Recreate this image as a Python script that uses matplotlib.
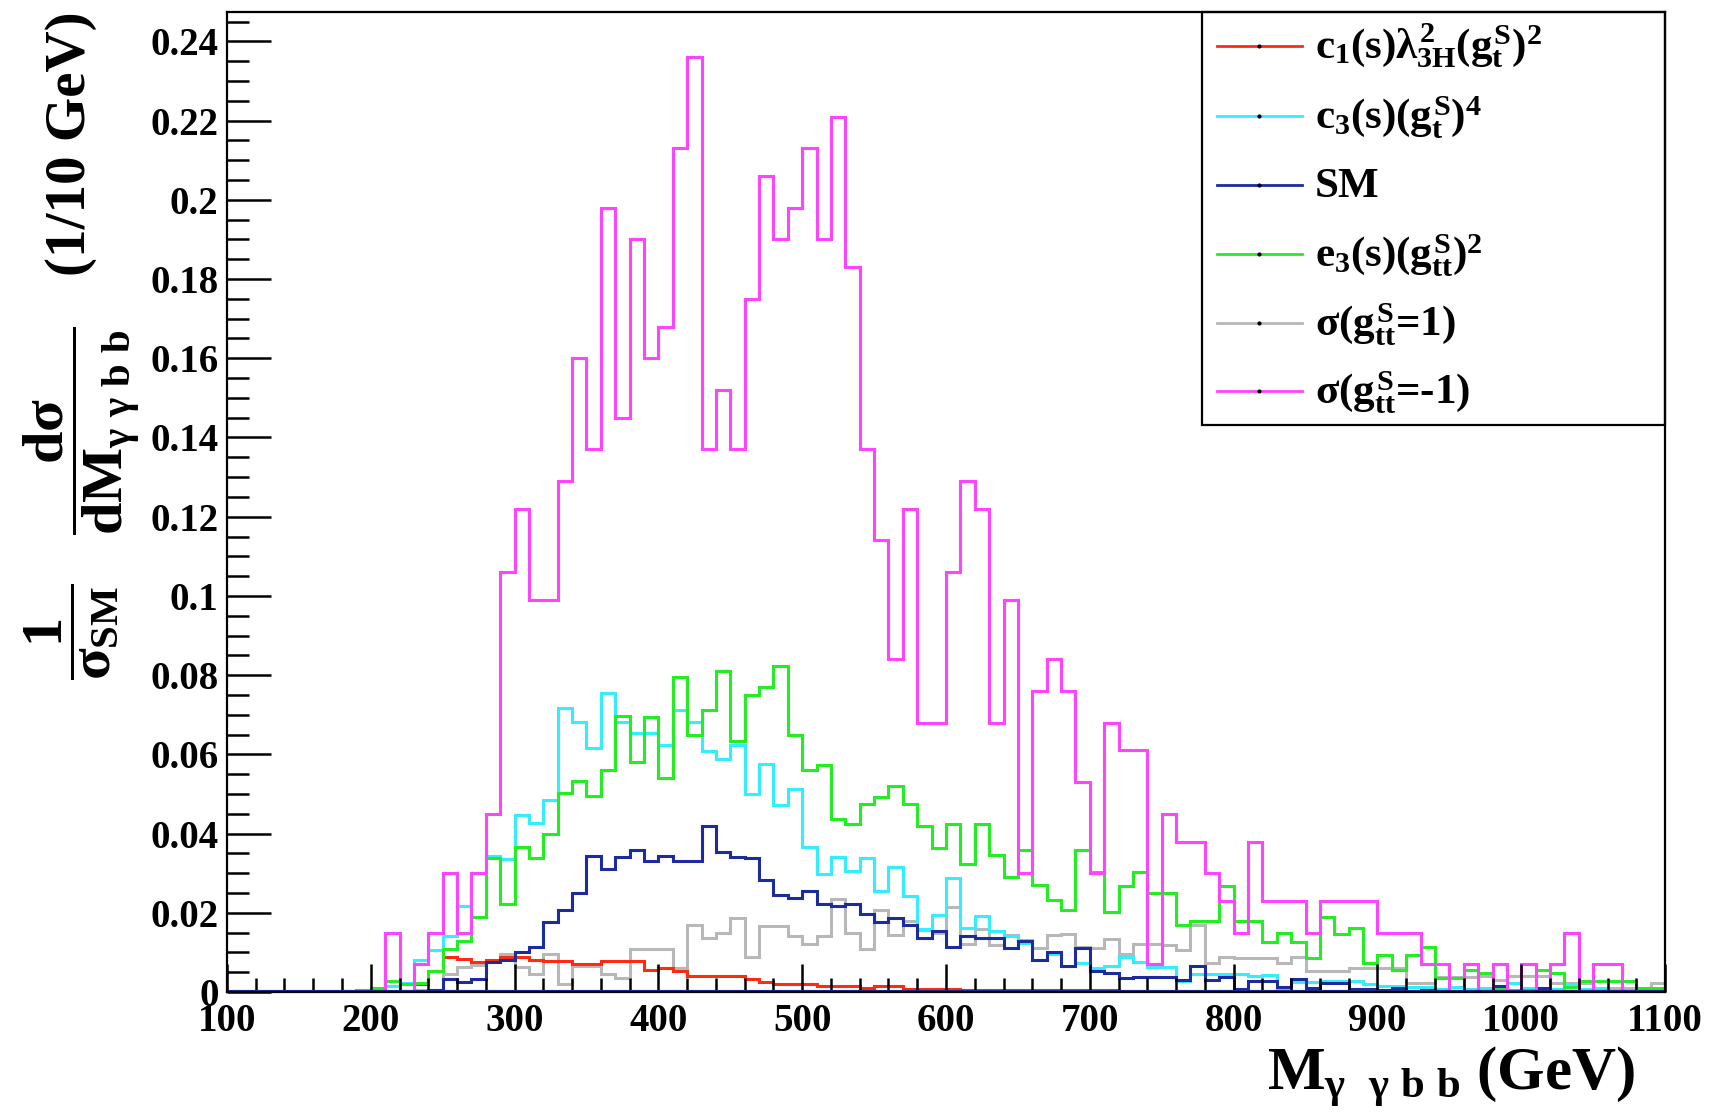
import numpy as np
import matplotlib
matplotlib.use("Agg")
import matplotlib.pyplot as plt
from matplotlib.ticker import MultipleLocator, FormatStrFormatter
from matplotlib.lines import Line2D
from matplotlib.patches import Rectangle

plt.rcParams['font.family'] = 'Liberation Serif'
plt.rcParams['font.weight'] = 'bold'
plt.rcParams['mathtext.fontset'] = 'custom'
plt.rcParams['mathtext.rm'] = 'Liberation Serif:bold'
plt.rcParams['mathtext.it'] = 'Liberation Serif:bold'
plt.rcParams['mathtext.bf'] = 'Liberation Serif:bold'

# binning: 100 bins of 10 GeV from 100 to 1100
m_lo, m_hi, m_step = 100, 1100, 10

# c1(s) lambda^2 (g_t^S)^2
c1_vals = [
    0, 0, 0, 0, 0, 0, 0, 0, 0, 0,
    0, 0, 0, 0.0020, 0.0053, 0.0089, 0.0083, 0.0076, 0.0080, 0.0089,
    0.0089, 0.0081, 0.0079, 0.0078, 0.0070, 0.0070, 0.0078, 0.0078, 0.0078, 0.0055,
    0.0060, 0.0053, 0.0040, 0.0040, 0.0040, 0.0040, 0.0032, 0.0026, 0.0021, 0.0021,
    0.0021, 0.0014, 0.0014, 0.0014, 0.0009, 0.0014, 0.0014, 0.0007, 0.0007, 0.0007,
    0.0007, 0.0004, 0.0004, 0.0004, 0.0004, 0.0004, 0.0004, 0.0004, 0.0004, 0.0004,
    0.0004, 0.0004, 0, 0, 0, 0, 0, 0, 0, 0,
    0, 0, 0, 0, 0, 0, 0, 0, 0, 0,
    0, 0, 0, 0, 0, 0, 0, 0, 0, 0,
    0, 0, 0, 0, 0, 0, 0, 0, 0, 0,
]

# c3(s) (g_t^S)^4
c3_vals = [
    0, 0, 0, 0, 0, 0, 0, 0, 0, 0.0004,
    0.0008, 0.0015, 0.0024, 0.0080, 0.0105, 0.0142, 0.0218, 0.0300, 0.0344, 0.0336,
    0.0446, 0.0426, 0.0486, 0.0716, 0.0682, 0.0617, 0.0755, 0.0682, 0.0654, 0.0654,
    0.0623, 0.0711, 0.0682, 0.0608, 0.0589, 0.0623, 0.0500, 0.0575, 0.0473, 0.0513,
    0.0365, 0.0298, 0.0340, 0.0305, 0.0338, 0.0256, 0.0316, 0.0243, 0.0159, 0.0195,
    0.0289, 0.0161, 0.0192, 0.0154, 0.0142, 0.0125, 0.0080, 0.0095, 0.0065, 0.0072,
    0.0060, 0.0066, 0.0089, 0.0076, 0.0063, 0.0063, 0.0028, 0.0045, 0.0045, 0.0045,
    0.0045, 0.0040, 0.0042, 0.0008, 0.0025, 0.0025, 0.0028, 0.0028, 0.0028, 0.0020,
    0.0015, 0.0015, 0.0012, 0.0012, 0.0008, 0.0012, 0.0008, 0.0010, 0.0008, 0.0023,
    0.0010, 0.0008, 0.0008, 0.0018, 0.0008, 0.0008, 0.0005, 0.0003, 0.0005, 0.0003,
]

# SM
sm_vals = [
    0, 0, 0, 0, 0, 0, 0, 0, 0, 0,
    0, 0, 0, 0, 0.0005, 0.0032, 0.0026, 0.0032, 0.0076, 0.0080,
    0.0100, 0.0114, 0.0176, 0.0207, 0.0250, 0.0344, 0.0310, 0.0340, 0.0359, 0.0330,
    0.0344, 0.0332, 0.0332, 0.0418, 0.0353, 0.0340, 0.0338, 0.0284, 0.0245, 0.0237,
    0.0256, 0.0222, 0.0217, 0.0223, 0.0196, 0.0177, 0.0188, 0.0170, 0.0136, 0.0154,
    0.0114, 0.0142, 0.0137, 0.0136, 0.0111, 0.0129, 0.0082, 0.0102, 0.0066, 0.0110,
    0.0053, 0.0049, 0.0035, 0.0039, 0.0039, 0.0039, 0.0030, 0.0066, 0.0030, 0.0039,
    0.0007, 0.0028, 0.0028, 0.0013, 0.0032, 0.0009, 0.0024, 0.0024, 0.0007, 0.0007,
    0.0005, 0.0010, 0.0003, 0.0005, 0.0003, 0.0003, 0.0003, 0.0003, 0.0015, 0.0003,
    0.0003, 0.0010, 0.0003, 0.0003, 0.0003, 0.0003, 0.0003, 0.0003, 0.0003, 0.0003,
]

# e3(s) (g_tt^S)^2
e3_vals = [
    0, 0, 0, 0, 0, 0, 0, 0, 0.0003, 0.0005,
    0.0010, 0.0028, 0.0020, 0.0022, 0.0053, 0.0108, 0.0129, 0.0190, 0.0338, 0.0222,
    0.0365, 0.0338, 0.0400, 0.0502, 0.0532, 0.0494, 0.0560, 0.0696, 0.0580, 0.0695,
    0.0540, 0.0796, 0.0648, 0.0711, 0.0811, 0.0635, 0.0749, 0.0769, 0.0824, 0.0648,
    0.0560, 0.0574, 0.0437, 0.0424, 0.0474, 0.0493, 0.0520, 0.0474, 0.0419, 0.0364,
    0.0425, 0.0324, 0.0425, 0.0345, 0.0290, 0.0358, 0.0270, 0.0232, 0.0207, 0.0358,
    0.0304, 0.0203, 0.0267, 0.0304, 0.0249, 0.0249, 0.0170, 0.0180, 0.0180, 0.0268,
    0.0180, 0.0180, 0.0127, 0.0148, 0.0127, 0.0087, 0.0190, 0.0146, 0.0161, 0.0074,
    0.0094, 0.0055, 0.0093, 0.0114, 0.0035, 0.0035, 0.0055, 0.0049, 0.0010, 0.0006,
    0.0006, 0.0055, 0.0049, 0.0012, 0.0028, 0.0028, 0.0028, 0.0028, 0.0010, 0.0010,
]

# sigma(g_tt^S = 1)
sig_p1_vals = [
    0, 0, 0, 0, 0, 0, 0, 0, 0, 0,
    0, 0, 0.0003, 0.0005, 0.0005, 0.0045, 0.0063, 0.0068, 0.0075, 0.0095,
    0.0062, 0.0045, 0.0095, 0.0020, 0.0066, 0.0066, 0.0046, 0.0036, 0.0108, 0.0108,
    0.0108, 0.0060, 0.0170, 0.0136, 0.0150, 0.0188, 0.0089, 0.0167, 0.0167, 0.0142,
    0.0122, 0.0142, 0.0235, 0.0149, 0.0109, 0.0207, 0.0144, 0.0180, 0.0156, 0.0149,
    0.0215, 0.0122, 0.0159, 0.0118, 0.0144, 0.0132, 0.0110, 0.0143, 0.0147, 0.0113,
    0.0112, 0.0133, 0.0097, 0.0122, 0.0122, 0.0118, 0.0106, 0.0169, 0.0074, 0.0089,
    0.0087, 0.0087, 0.0087, 0.0072, 0.0089, 0.0053, 0.0053, 0.0053, 0.0060, 0.0060,
    0.0061, 0.0061, 0.0023, 0.0023, 0.0037, 0.0037, 0.0037, 0.0040, 0.0030, 0.0040,
    0.0040, 0.0040, 0.0023, 0.0023, 0.0023, 0.0010, 0.0010, 0.0010, 0.0010, 0.0022,
]

# sigma(g_tt^S = -1)
sig_m1_vals = [
    0, 0, 0, 0, 0, 0, 0, 0, 0, 0,
    0, 0.015, 0, 0.007, 0.015, 0.030, 0.015, 0.030, 0.045, 0.106,
    0.122, 0.099, 0.099, 0.129, 0.160, 0.137, 0.198, 0.145, 0.190, 0.160,
    0.168, 0.213, 0.236, 0.137, 0.152, 0.137, 0.175, 0.206, 0.190, 0.198,
    0.213, 0.190, 0.221, 0.183, 0.137, 0.114, 0.084, 0.122, 0.068, 0.068,
    0.106, 0.129, 0.122, 0.068, 0.099, 0.030, 0.076, 0.084, 0.076, 0.053,
    0.030, 0.068, 0.061, 0.061, 0.007, 0.045, 0.038, 0.038, 0.030, 0.023,
    0.015, 0.038, 0.023, 0.023, 0.023, 0.015, 0.023, 0.023, 0.023, 0.023,
    0.015, 0.015, 0.015, 0.007, 0.007, 0, 0.007, 0, 0.007, 0,
    0.007, 0, 0.007, 0.015, 0, 0.007, 0.007, 0, 0, 0,
]

labels = [
    r'$c_1(s)\lambda^2_{3H}(g^S_t)^2$',
    r'$c_3(s)(g^S_t)^4$',
    'SM',
    r'$e_3(s)(g^S_{tt})^2$',
    r'$\sigma(g^S_{tt}$=1)',
    r'$\sigma(g^S_{tt}$=-1)',
]
colors = ['#ff2a10', '#33eeff', '#1c2c9c', '#22ee22', '#b8b8b8', '#ff44ff']
series = [c1_vals, c3_vals, sm_vals, e3_vals, sig_p1_vals, sig_m1_vals]

edges = np.arange(m_lo, m_hi + m_step, m_step)

fig = plt.figure(figsize=(17.09, 11.15), dpi=100)
ax = fig.add_axes([0.1328, 0.1103, 0.8415, 0.8792])

# draw order (last on top)
for i in [4, 0, 1, 3, 2, 5]:
    ax.stairs(series[i], edges, color=colors[i], lw=2.2, baseline=None)
ax.axhline(0, color='#1c2c9c', lw=3, zorder=2.2)

ax.set_xlim(m_lo, m_hi)
ax.set_ylim(0, 0.2475)

ax.xaxis.set_major_locator(MultipleLocator(100))
ax.xaxis.set_minor_locator(MultipleLocator(20))
ax.yaxis.set_major_locator(MultipleLocator(0.02))
ax.yaxis.set_minor_locator(MultipleLocator(0.005))
ax.yaxis.set_major_formatter(FormatStrFormatter('%g'))

ax.tick_params(axis='x', which='major', direction='in', length=20, width=1.8,
               labelsize=28, pad=8, top=False)
ax.tick_params(axis='x', which='minor', direction='in', length=10, width=1.8, top=False)
ax.tick_params(axis='y', which='major', direction='in', length=32, width=1.8,
               labelsize=28, pad=6, right=False)
ax.tick_params(axis='y', which='minor', direction='in', length=16, width=1.8, right=False)
for lab in ax.get_xticklabels() + ax.get_yticklabels():
    lab.set_fontweight('bold')
for s in ax.spines.values():
    s.set_linewidth(1.6)

# axis titles
fig.text(0.9567, 0.0224, r'$M_{\gamma\ \ \gamma\ b\ b}$ (GeV)', fontsize=44,
         ha='right', va='baseline', fontweight='bold')
fig.text(0.0415, 0.871, '(1/10 GeV)', fontsize=41, rotation=90,
         ha='center', va='center', fontweight='bold')
fig.text(0.048, 0.614, r'$\dfrac{d\sigma}{dM_{\gamma\ \gamma\ b\ b}}$', fontsize=42,
         rotation=90, ha='center', va='center')
fig.text(0.042, 0.433, r'$\dfrac{1}{\sigma_{SM}}$', fontsize=42,
         rotation=90, ha='center', va='center')

# legend box
fig.add_artist(Rectangle((0.7032, 0.6188), 0.2711, 0.3707, transform=fig.transFigure,
                         fill=False, ec='black', lw=1.6))
entry_y = [0.9587, 0.8962, 0.8341, 0.7722, 0.7103, 0.6493]
for lab, col, y in zip(labels, colors, entry_y):
    fig.add_artist(Line2D([0.7119, 0.7617], [y, y], transform=fig.transFigure,
                          color=col, lw=2))
    fig.add_artist(Line2D([0.7368], [y], transform=fig.transFigure, marker='o',
                          ms=2, color='black', lw=0))
    fig.text(0.7695, y - 0.0112, lab, fontsize=31, ha='left', va='baseline',
             fontweight='bold')

fig.savefig('out.png', dpi=100)
